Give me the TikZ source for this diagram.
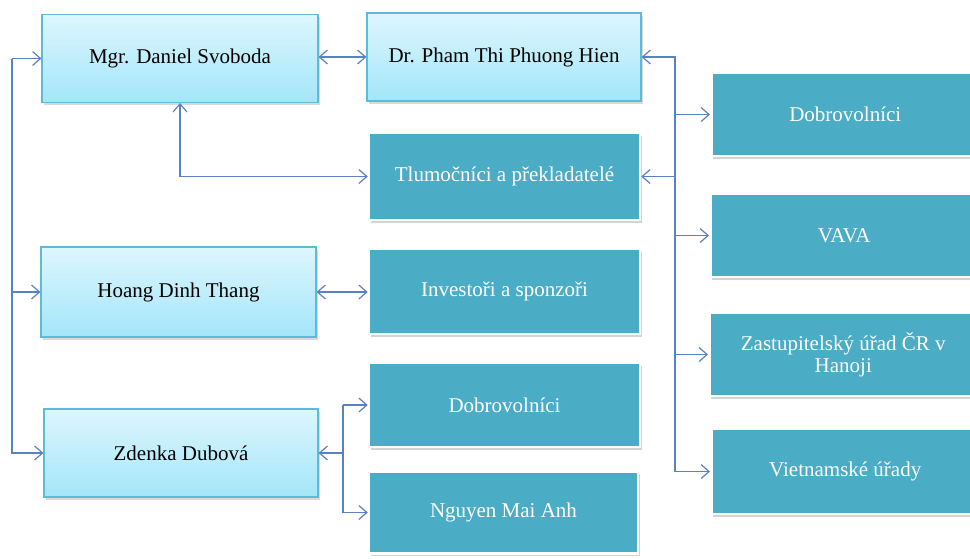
\documentclass[tikz,border=0pt]{standalone}
\usepackage{fontspec}
\setmainfont{Liberation Serif}
\usetikzlibrary{arrows.meta,shadows,calc}

\definecolor{accentfive}{HTML}{4BACC6}
\definecolor{lighttop}{HTML}{DDF6FD}
\definecolor{lightbot}{HTML}{A3E6F9}
\definecolor{lightedge}{HTML}{5CBCD6}
\definecolor{linkblue}{HTML}{5A81C2}

\tikzset{
  person/.style={draw=lightedge, line width=1.1pt, top color=lighttop, bottom color=lightbot,
    minimum width=#1, minimum height=88pt, inner sep=0pt, text=black,
    drop shadow={shadow xshift=1.5pt, shadow yshift=-2.5pt, opacity=0.3}},
  partner/.style={draw=white, line width=2.5pt, fill=accentfive,
    minimum width=#1, minimum height=84pt, inner sep=0pt, text=white, align=center,
    drop shadow={shadow xshift=2pt, shadow yshift=-2.5pt, opacity=0.35}},
  conn/.style={draw=linkblue, line width=1.3pt},
  tip/.tip={Straight Barb[length=8pt, width=14pt, line width=1.2pt]},
}

\begin{document}
\begin{tikzpicture}[x=1pt, y=-1pt, font=\rmfamily\fontsize{21}{23.5}\selectfont]
\useasboundingbox (0,0) rectangle (970,558);
\clip (0,0) rectangle (970,558);

% people
\node[person=276pt] (svo) at (180,58.5) {Mgr. Daniel Svoboda};
\node[person=274pt] (hie) at (504,57) {Dr. Pham Thi Phuong Hien};
\node[person=275pt, minimum height=90pt] (hoa) at (178.5,292) {Hoang Dinh Thang};
\node[person=274pt] (dub) at (181,453) {Zdenka Dubová};

% partners, middle column
\node[partner=271pt, minimum height=87pt] (tlu) at (504.5,176.5) {Tlumočníci a překladatelé};
\node[partner=271pt, minimum height=85pt] (inv) at (504.5,291.5) {Investoři a sponzoři};
\node[partner=271pt] (dobb) at (504.5,405) {Dobrovolníci};
\node[partner=269pt, minimum height=82pt] (ngu) at (503.5,512.5) {Nguyen Mai Anh};

% partners, right column
\node[partner=268pt, minimum height=83pt, anchor=west] (dobr) at (710,114.5) {Dobrovolníci};
\node[partner=268pt, minimum height=83pt, anchor=west] (vava) at (709,235.5) {VAVA};
\node[partner=268pt, minimum height=83pt, anchor=west] (zas) at (708,354.5) {Zastupitelský úřad ČR v\\[-2pt]Hanoji};
\node[partner=268pt, minimum height=85pt, anchor=west] (vie) at (710,471.5) {Vietnamské úřady};

% bus lines
\coordinate (lbus) at (12,0);
\coordinate (rbus) at (675,0);
\coordinate (dbus) at (343,0);

% left bus
\draw[conn,-tip] (svo.west -| lbus) |- (dub.west);
\draw[conn,-tip] (svo.west -| lbus) -- (svo.west);
\draw[conn,-tip] (hoa.west -| lbus) -- (hoa.west);

% top pair
\draw[conn,tip-tip] (hie.west -| svo.east) -- (hie.west);
\draw[conn,tip-tip] (svo.south) |- (tlu.west);

% right bus
\draw[conn,tip-tip] (hie.east) -| (vie.west -| rbus) -- (vie.west);
\draw[conn,-tip] (tlu.east -| rbus) -- (tlu.east);
\draw[conn,-tip] (dobr.west -| rbus) -- (dobr.west);
\draw[conn,-tip] (vava.west -| rbus) -- (vava.west);
\draw[conn,-tip] (zas.west -| rbus) -- (zas.west);

% Hoang to sponsors
\draw[conn,tip-tip] (hoa.east) -- (hoa.east -| inv.west);

% Dubova branch
\draw[conn,tip-] (dub.east) -- (dub.east -| dbus);
\draw[conn,-tip] (dobb.west -| dbus) |- (ngu.west);
\draw[conn,-tip] (dobb.west -| dbus) -- (dobb.west);
\end{tikzpicture}
\end{document}
